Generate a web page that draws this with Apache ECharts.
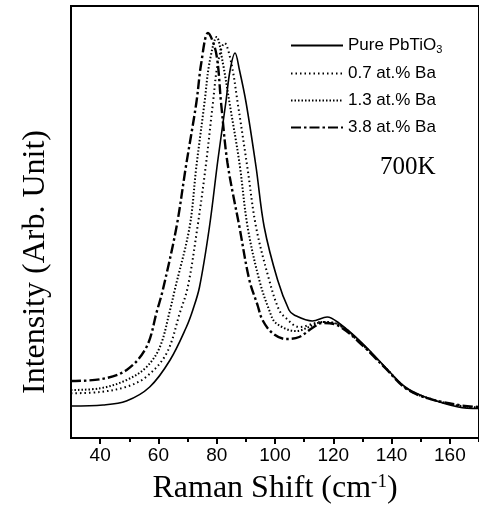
<!DOCTYPE html>
<html>
<head>
<meta charset="utf-8">
<script src="https://cdn.jsdelivr.net/npm/echarts@6/dist/echarts.min.js"></script>
<style>
html,body{margin:0;padding:0;background:#fff;}
#chart{width:479px;height:527px;}
</style>
</head>
<body>
<div id="chart"></div>
<script>
// ---- data (Raman shift in cm^-1, intensity in arbitrary units) ----
const seriesNames = ['Pure PbTiO3', '0.7 at.% Ba', '1.3 at.% Ba', '3.8 at.% Ba'];

const pureX = [30, 41, 49, 57, 64, 69.6, 71.8, 74.1, 77.5, 80.4, 83.1, 84.6, 86.3, 87.8, 90.1, 93.5, 96.3, 100.9, 104.8, 106.6, 112.8, 117.9, 121.9, 129.9, 137.8, 144.7, 151.5, 162.9, 170];
const pureY = [32, 33, 37, 51, 78, 111, 128, 151, 211, 278, 335, 368, 385, 368, 335, 271, 211, 158, 128, 123, 117, 121, 115, 95, 71, 51, 41, 31, 29.5];

const ba07X = [30, 40, 49.1, 55.9, 62.8, 67.5, 70.1, 73.4, 76.2, 78.7, 80.4, 82.7, 85, 87.2, 90.5, 93.5, 98, 101.4, 103.7, 108.3, 116.1, 121.9, 129.9, 137.8, 144.7, 151.5, 162.9, 170];
const ba07Y = [44.7, 46, 51.3, 61.3, 84.7, 126.5, 151.3, 211, 271, 335, 375, 395, 375, 335, 271, 211, 158, 128, 120, 111, 116, 113.5, 94, 70.5, 50.5, 41, 32, 30];

const ba13X = [30, 40, 49.1, 55.9, 60.5, 63.9, 65.6, 70.7, 73, 75.8, 77.5, 80, 82.1, 84.4, 87.8, 90.6, 94.6, 98, 100.3, 107.1, 116.8, 121.9, 129.9, 137.8, 144.7, 151.5, 162.9, 170];
const ba13Y = [48, 49.7, 58, 71, 91, 127, 148, 211, 271, 335, 375, 401, 375, 335, 275, 211, 158, 128, 115, 107, 116, 113, 93.5, 70.5, 50.5, 40.5, 32.5, 30.5];

const ba38X = [30, 40, 49.1, 55.9, 59.5, 61.5, 66.2, 69.4, 73, 74.7, 77, 79.8, 81.5, 83.7, 87.8, 91.2, 94, 95.7, 99.1, 103.7, 108.3, 112.8, 116.2, 121.9, 129.9, 137.8, 144.7, 151.5, 162.9, 170];
const ba38Y = [57, 58.7, 68, 91, 127, 148, 211, 271, 335, 375, 405, 385, 335, 275, 211, 158, 133, 118, 105, 99, 101, 110, 115, 112, 93, 70, 50, 40.5, 33, 31];

const majorTicks = [40, 60, 80, 100, 120, 140, 160];
const minorTicks = [50, 70, 90, 110, 130, 150, 170];
const annotation = '700K';
const yTitle = 'Intensity (Arb. Unit)';

function pairs(xs, ys) { return xs.map((x, i) => [x, ys[i]]); }

const chart = echarts.init(document.getElementById('chart'), null, {renderer: 'canvas'});

const lineStyles = [
  {color: '#000', width: 1.6, type: 'solid'},
  {color: '#000', width: 2, type: [1.5, 3]},
  {color: '#000', width: 2, type: [1.5, 2]},
  {color: '#000', width: 2.4, type: [10, 3, 2.5, 3]}
];
const datasets = [pairs(pureX, pureY), pairs(ba07X, ba07Y), pairs(ba13X, ba13Y), pairs(ba38X, ba38Y)];

const option = {
  animation: false,
  backgroundColor: '#fff',
  color: ['#000', '#000', '#000', '#000'],
  grid: {left: 71, top: 6, width: 410, height: 432, show: true, borderColor: '#000', borderWidth: 2, backgroundColor: 'transparent'},
  xAxis: [{
    type: 'value', min: 30, max: 170,
    axisLine: {show: false},
    axisTick: {show: true, customValues: majorTicks, length: 6, lineStyle: {color: '#000', width: 2}},
    axisLabel: {show: true, customValues: majorTicks, margin: 8, color: '#000', fontSize: 19, fontFamily: 'Liberation Sans'},
    splitLine: {show: false},
    name: '{a|Raman Shift (cm}{s|-1}{a|)}',
    nameLocation: 'middle', nameGap: 35,
    nameTextStyle: {
      rich: {
        a: {fontFamily: 'Liberation Serif', fontSize: 32, color: '#000'},
        s: {fontFamily: 'Liberation Serif', fontSize: 19, color: '#000', verticalAlign: 'top', padding: [0, 0, 12, 0]}
      }
    }
  }, {
    type: 'value', min: 30, max: 170, position: 'bottom',
    axisLine: {show: false},
    axisTick: {show: true, customValues: minorTicks, length: 4, lineStyle: {color: '#000', width: 2}},
    axisLabel: {show: false},
    splitLine: {show: false}
  }],
  yAxis: {
    type: 'value', min: 0, max: 432,
    axisLine: {show: false}, axisTick: {show: false}, axisLabel: {show: false}, splitLine: {show: false}
  },
  legend: {
    orient: 'vertical', left: 290, top: 37, padding: 0, itemWidth: 52, itemHeight: 12, itemGap: 10,
    data: seriesNames,
    itemStyle: {opacity: 0, borderWidth: 0},
    formatter: function (n) { return n === 'Pure PbTiO3' ? '{t|Pure PbTiO}{s|3}' : '{t|' + n + '}'; },
    textStyle: {
      color: '#000', fontFamily: 'Liberation Sans', fontSize: 17,
      rich: {
        t: {fontFamily: 'Liberation Sans', fontSize: 17, color: '#000'},
        s: {fontFamily: 'Liberation Sans', fontSize: 11, color: '#000', verticalAlign: 'bottom', padding: [8, 0, 0, 0]}
      }
    }
  },
  graphic: [{
    type: 'text', left: 380, top: 155,
    style: {text: annotation, fontFamily: 'Liberation Serif', fontSize: 25, fill: '#000'}
  }, {
    type: 'text', x: 36, y: 262, rotation: Math.PI / 2,
    style: {text: yTitle, fontFamily: 'Liberation Serif', fontSize: 32, fill: '#000', align: 'center', verticalAlign: 'middle'}
  }],
  series: seriesNames.map((n, i) => ({
    name: n, type: 'line', data: datasets[i], smooth: 0.35,
    showSymbol: false, symbol: 'none', clip: true,
    itemStyle: {color: '#000'},
    lineStyle: lineStyles[i]
  }))
};
chart.setOption(option);
</script>
</body>
</html>
